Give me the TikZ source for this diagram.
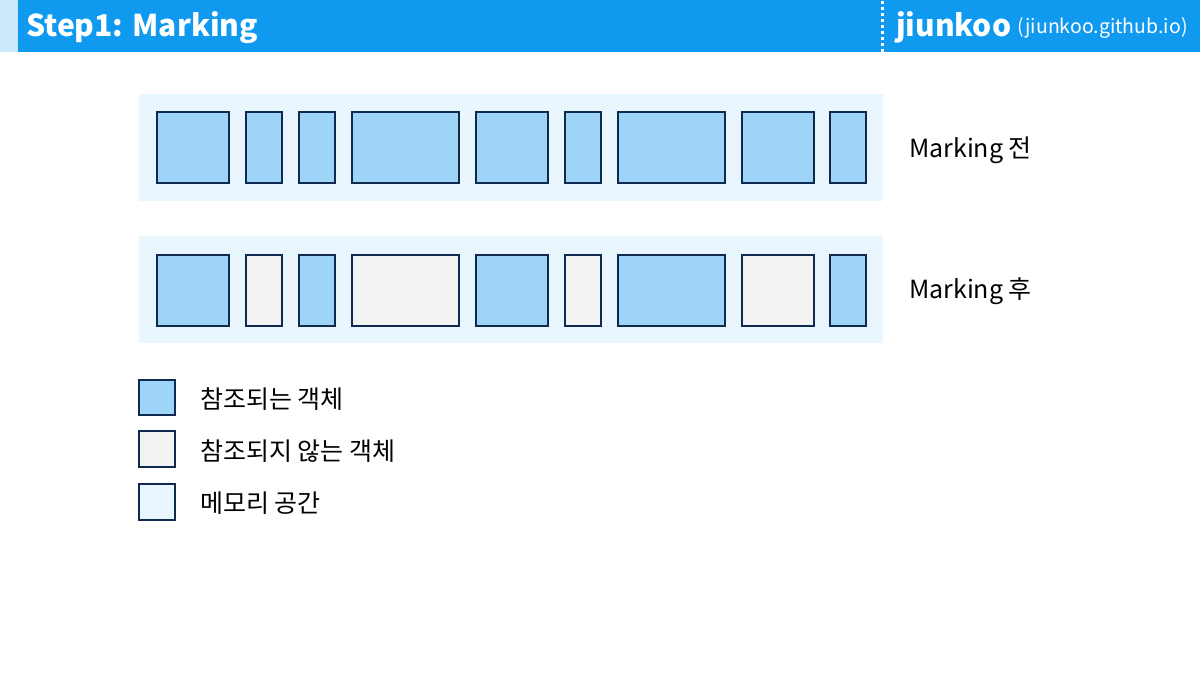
\documentclass[tikz,border=0pt]{standalone}
\usepackage{fontspec}
\setmainfont{Noto Sans CJK KR}
\definecolor{hdrblue}{HTML}{0F9AEF}
\definecolor{hdrlight}{HTML}{CCE8FB}
\definecolor{refblue}{HTML}{9DD4F8}
\definecolor{unref}{HTML}{F2F2F2}
\definecolor{memspace}{HTML}{EAF6FD}
\definecolor{navy}{HTML}{0F2A4F}
\tikzset{
  objbox/.style={draw=navy, line width=1.4pt},
  mem/.style={fill=memspace},
  lbl/.style={anchor=west, font=\fontsize{25}{29}\selectfont, text=black, inner sep=0pt},
}
\begin{document}
\begin{tikzpicture}[x=1pt,y=-1pt]
\useasboundingbox (0,0) rectangle (1200,675);
\fill[white] (0,0) rectangle (1200,675);
% header
\fill[hdrlight] (0,0) rectangle (18,52);
\fill[hdrblue] (18,0) rectangle (1200,52);
\draw[white, line width=3pt, dash pattern=on 3pt off 3pt] (882,1) -- (882,52);
\node[anchor=west, text=white, inner sep=0pt, font=\fontsize{30}{34}\selectfont\bfseries] (title) at (26,28) {Step1: Marking};
\node[anchor=west, text=white, inner sep=0pt, font=\fontsize{30}{34}\selectfont\bfseries] (brand) at (896,27) {jiunkoo};
\node[anchor=west, text=white, inner sep=0pt, font=\fontsize{19.5}{23}\selectfont] (url) at (1017,28) {(jiunkoo.github.io)};
% memory rows
\fill[mem] (139,94) rectangle (883,201);
\fill[mem] (139,236) rectangle (883,343);
% row 1
\foreach \a/\b in {157/229,246/282,299/335,352/459,476/548,565/601,618/725,742/814,830/866}{
  \draw[objbox, fill=refblue] (\a,112) rectangle (\b,183);
}
% row 2
\foreach \a/\b/\c in {157/229/refblue,246/282/unref,299/335/refblue,352/459/unref,476/548/refblue,565/601/unref,618/725/refblue,742/814/unref,830/866/refblue}{
  \draw[objbox, fill=\c] (\a,255) rectangle (\b,326);
}
\node[lbl] (before) at (909,150) {Marking 전};
\node[lbl] (after) at (909,291) {Marking 후};
% legend
\draw[objbox, fill=refblue] (139,380) rectangle (175,415);
\draw[objbox, fill=unref] (139,431) rectangle (175,467);
\draw[objbox, fill=memspace] (139,484) rectangle (175,520);
\node[lbl] (l1) at (200,399) {참조되는 객체};
\node[lbl] (l2) at (200,451) {참조되지 않는 객체};
\node[lbl] (l3) at (200,503) {메모리 공간};
\end{tikzpicture}
\end{document}
